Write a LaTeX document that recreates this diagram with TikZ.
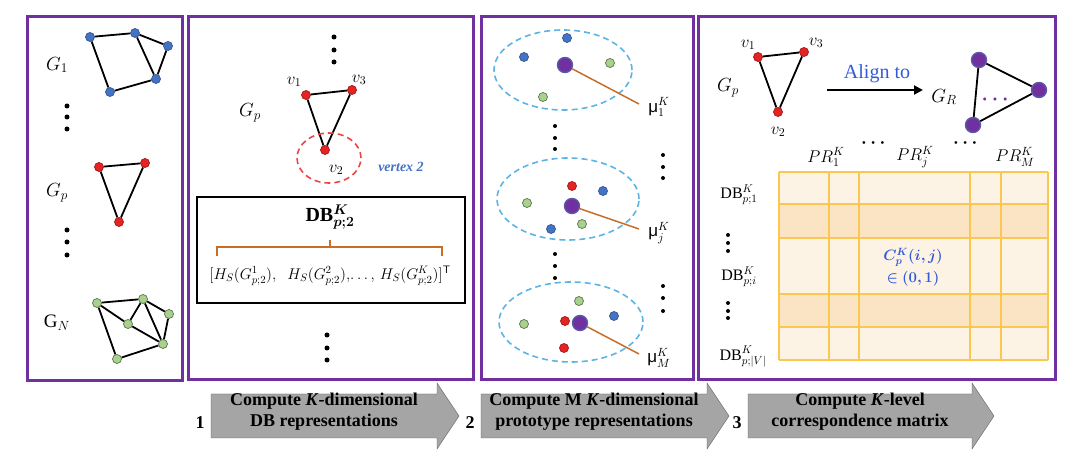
\RequirePackage{fix-cm}
\documentclass[tikz,border=0pt]{standalone}
\usepackage{amsmath, amsfonts, amssymb, bm}
\usepackage{fontspec}
\setmainfont{Liberation Serif}
\newfontfamily\greeksans{Liberation Sans}
\usepackage{tikz}
\usetikzlibrary{positioning, arrows.meta, shapes.geometric}

\definecolor{panelpurple}{RGB}{112,48,160}
\definecolor{nodeblue}{RGB}{68,114,196}
\definecolor{nodered}{RGB}{230,35,35}
\definecolor{nodegreen}{RGB}{169,209,142}
\definecolor{clusterblue}{RGB}{91,180,228}
\definecolor{braceorange}{RGB}{200,110,40}
\definecolor{textblue}{RGB}{50,90,215}
\definecolor{gridgold}{RGB}{250,200,80}
\definecolor{celllight}{RGB}{253,243,228}
\definecolor{celldark}{RGB}{250,228,195}
\definecolor{arrowgray}{RGB}{165,165,165}

\begin{document}
\begin{tikzpicture}[x=1pt, y=-1pt,
    panel/.style={draw=panelpurple, line width=3pt},
    link/.style={draw=black, line width=1.8pt},
    vert/.style={circle, inner sep=0pt, minimum size=9pt, line width=0.7pt},
    bvert/.style={vert, fill=nodeblue, draw=nodeblue!75!black},
    rvert/.style={vert, fill=nodered, draw=nodered!70!black},
    gvert/.style={vert, fill=nodegreen, draw=nodegreen!55!black},
    pvert/.style={circle, inner sep=0pt, minimum size=15pt, fill=panelpurple, draw=gray!70!blue, line width=1.4pt},
    vdot/.style={circle, fill=black, inner sep=0pt, minimum size=5pt},
    sdot/.style={circle, fill=black, inner sep=0pt, minimum size=4pt},
    glabel/.style={font=\fontsize{19}{21}\selectfont},
    vlabel/.style={font=\fontsize{17}{19}\selectfont},
    cluster/.style={ellipse, draw=clusterblue, dash pattern=on 6pt off 4pt, line width=1.6pt, inner sep=0pt},
    mline/.style={draw=braceorange, line width=1.5pt},
    steparrow/.style={fill=arrowgray, draw=gray!70!black, line width=0.4pt},
    steptext/.style={align=center, font=\bfseries\fontsize{18}{21}\selectfont},
    stepnum/.style={font=\bfseries\fontsize{18}{21}\selectfont}]

    \useasboundingbox (0,0) rectangle (1080,454);

    % panel 1: the graph set
    \draw[panel] (27,17) rectangle (182,381);
    \node[glabel] (g1) at (57,65) {$G_1$};
    \node[bvert] (b1) at (90,37) {};
    \node[bvert] (b2) at (135,33) {};
    \node[bvert] (b3) at (168,46) {};
    \node[bvert] (b4) at (156,79) {};
    \node[bvert] (b5) at (110,92) {};
    \foreach \a/\b in {b1/b2, b2/b3, b3/b4, b2/b4, b1/b5, b5/b4}
        \draw[link] (\a) -- (\b);
    \foreach \y [count=\i] in {106,117,129}
        \node[vdot] (da\i) at (67,\y) {};
    \node[glabel] (gp) at (57,193) {$G_p$};
    \node[rvert] (r1) at (99,167) {};
    \node[rvert] (r3) at (145,163) {};
    \node[rvert] (r2) at (119,222) {};
    \foreach \a/\b in {r1/r3, r3/r2, r2/r1}
        \draw[link] (\a) -- (\b);
    \foreach \y [count=\i] in {230,242,255}
        \node[vdot] (db\i) at (67,\y) {};
    \node[glabel] (gn) at (57,323) {$\mathrm{G}_N$};
    \node[gvert] (n1) at (97,303) {};
    \node[gvert] (n2) at (143,299) {};
    \node[gvert] (n3) at (169,314) {};
    \node[gvert] (n4) at (128,324) {};
    \node[gvert] (n5) at (163,344) {};
    \node[gvert] (n6) at (117,359) {};
    \foreach \a/\b in {n1/n2, n2/n3, n3/n5, n1/n4, n1/n6, n2/n4, n2/n5, n4/n5, n6/n5}
        \draw[link] (\a) -- (\b);

    % panel 2: DB representation of one vertex
    \draw[panel] (188,17) rectangle (473,380);
    \foreach \y [count=\i] in {37,50,62}
        \node[vdot] (dc\i) at (334,\y) {};
    \node[glabel] (gp2) at (250,113) {$G_p$};
    \node[rvert] (pv1) at (306,95) {};
    \node[rvert] (pv3) at (352,90) {};
    \node[rvert] (pv2) at (325,150) {};
    \foreach \a/\b in {pv1/pv3, pv3/pv2, pv2/pv1}
        \draw[link] (\a) -- (\b);
    \node[vlabel] (lv1) at (294,82) {$v_1$};
    \node[vlabel] (lv3) at (359,80) {$v_3$};
    \node[vlabel] (lv2) at (336,170) {$v_2$};
    \node[ellipse, draw=nodered!85, dash pattern=on 6pt off 4pt, line width=1.6pt,
          minimum width=64pt, minimum height=50pt] (ring) at (329,158) {};
    \node[text=nodeblue, font=\bfseries\itshape\fontsize{14}{16}\selectfont] (vx) at (401,167) {vertex 2};
    \draw[line width=1.8pt] (197,197) rectangle (465,303);
    \node[font=\fontsize{20}{22}\selectfont] (dbt) at (330,217) {$\mathbf{DB}^{\bm{K}}_{\bm{p;2}}$};
    \draw[mline] (217,256) -- (217,247) -- (442,247) -- (442,256);
    \draw[mline] (330,247) -- (330,240);
    \node[font=\fontsize{15.5}{17}\selectfont] (hs) at (330,276)
        {$[H_S(G^1_{p;2}),\;\; H_S(G^2_{p;2}),\!\ldots,\, H_S(G^K_{p;2})]^{\mathsf{T}}$};
    \foreach \y [count=\i] in {335,348,360}
        \node[vdot] (dd\i) at (327,\y) {};

    % panel 3: prototypes
    \draw[panel] (481,17) rectangle (693,380);
    \node[cluster, minimum width=138pt, minimum height=80pt] (c1) at (563,70) {};
    \node[cluster, minimum width=142pt, minimum height=82pt] (c2) at (568,199) {};
    \node[cluster, minimum width=144pt, minimum height=80pt] (c3) at (571,322) {};
    \node[bvert] (s1) at (567,38) {};
    \node[bvert] (s2) at (524,57) {};
    \node[gvert] (s3) at (610,63) {};
    \node[gvert] (s4) at (543,97) {};
    \node[pvert] (m1) at (565,65) {};
    \node[rvert] (s5) at (572,186) {};
    \node[bvert] (s6) at (603,191) {};
    \node[gvert] (s7) at (527,203) {};
    \node[bvert] (s8) at (551,229) {};
    \node[gvert] (s9) at (582,224) {};
    \node[pvert] (m2) at (572,206) {};
    \node[gvert] (s10) at (579,301) {};
    \node[bvert] (s11) at (614,316) {};
    \node[rvert] (s12) at (565,321) {};
    \node[gvert] (s13) at (524,324) {};
    \node[rvert] (s14) at (564,348) {};
    \node[pvert] (m3) at (580,323) {};
    \node[font=\fontsize{17}{19}\selectfont] (mu1) at (659,107) {{\greeksans μ}$^K_1$};
    \node[font=\fontsize{17}{19}\selectfont] (mu2) at (659,233) {{\greeksans μ}$^K_j$};
    \node[font=\fontsize{17}{19}\selectfont] (mu3) at (659,358) {{\greeksans μ}$^K_M$};
    \coordinate (e1) at (639,104);
    \coordinate (e2) at (639,229);
    \coordinate (e3) at (639,354);
    \draw[mline] (m1) -- (e1);
    \draw[mline] (m2) -- (e2);
    \draw[mline] (m3) -- (e3);
    \foreach \y [count=\i] in {126,138,149,254,266,278}
        \node[sdot] (de\i) at (555,\y) {};
    \foreach \y [count=\i] in {155,167,178,286,298,311}
        \node[sdot] (df\i) at (663,\y) {};

    % panel 4: correspondence matrix
    \draw[panel] (698,17) rectangle (1055,380);
    \node[glabel] (gp3) at (728,88) {$G_p$};
    \node[rvert] (q1) at (758,57) {};
    \node[rvert] (q3) at (804,52) {};
    \node[rvert] (q2) at (778,112) {};
    \foreach \a/\b in {q1/q3, q3/q2, q2/q1}
        \draw[link] (\a) -- (\b);
    \node[vlabel] (lq1) at (748,45) {$v_1$};
    \node[vlabel] (lq3) at (816,43) {$v_3$};
    \node[vlabel] (lq2) at (778,132) {$v_2$};
    \coordinate (al1) at (827,90);
    \coordinate (al2) at (923,90);
    \draw[line width=2pt, -{Triangle[length=9pt, width=9pt]}] (al1) -- (al2);
    \node[text=textblue, font=\fontsize{20}{22}\selectfont] (align) at (877,74) {Align to};
    \node[glabel] (gr) at (944,97) {$G_R$};
    \node[pvert] (t1) at (979,60) {};
    \node[pvert] (t2) at (1039,90) {};
    \node[pvert] (t3) at (973,125) {};
    \foreach \a/\b in {t1/t2, t2/t3, t3/t1}
        \draw[link] (\a) -- (\b);
    \node[text=panelpurple, font=\fontsize{20}{20}\selectfont] (tdots) at (997,100) {$\bm{\cdots}$};

    \foreach \ya/\yb/\c in {172/204/celllight, 204/238/celldark, 238/294/celllight, 294/327/celldark, 327/360/celllight}
        \fill[\c] (779,\ya) rectangle (1048,\yb);
    \foreach \x in {779,829,859,970,1001,1048}
        \draw[gridgold, line width=1.2pt] (\x,172) -- (\x,360);
    \foreach \y in {172,204,238,294,327,360}
        \draw[gridgold, line width=1.2pt] (779,\y) -- (1048,\y);

    \node[vlabel] (pr1) at (826,157) {$PR^K_1$};
    \node[vlabel] (prj) at (915,157) {$PR^K_j$};
    \node[vlabel] (prm) at (1015,157) {$PR^K_M$};
    \node[font=\fontsize{18}{18}\selectfont] (hd1) at (875,143) {$\bm{\cdots}$};
    \node[font=\fontsize{18}{18}\selectfont] (hd2) at (967,143) {$\bm{\cdots}$};
    \node[font=\fontsize{16}{18}\selectfont] (rdb1) at (739,195) {$\mathrm{DB}^K_{p;1}$};
    \node[font=\fontsize{16}{18}\selectfont] (rdbi) at (739,277) {$\mathrm{DB}^K_{p;i}$};
    \node[font=\fontsize{16}{18}\selectfont] (rdbv) at (743,357) {$\mathrm{DB}^K_{p;|V|}$};
    \foreach \y [count=\i] in {235,243,251,303,311,318}
        \node[sdot] (dg\i) at (728,\y) {};
    \node[text=textblue, align=center, font=\fontsize{15}{22}\selectfont] (cij) at (913,267)
        {$\bm{C^K_p(i,j)}$\\$\bm{\in(0,1)}$};

    % step arrows
    \foreach \xa/\xb in {211/437, 481/707, 748/972}
        \draw[steparrow] (\xa,394) -- (\xb,394) -- (\xb,383) -- (\xb+22,416)
            -- (\xb,449) -- (\xb,438) -- (\xa,438) -- cycle;
    \node[stepnum] (n1) at (200,423) {1};
    \node[stepnum] (n2) at (470,423) {2};
    \node[stepnum] (n3) at (737,423) {3};
    \node[steptext] (st1) at (324,412) {Compute \textit{K}-dimensional\\DB representations};
    \node[steptext] (st2) at (594,412) {Compute M \textit{K}-dimensional\\prototype representations};
    \node[steptext] (st3) at (860,412) {Compute \textit{K}-level\\correspondence matrix};
\end{tikzpicture}
\end{document}
